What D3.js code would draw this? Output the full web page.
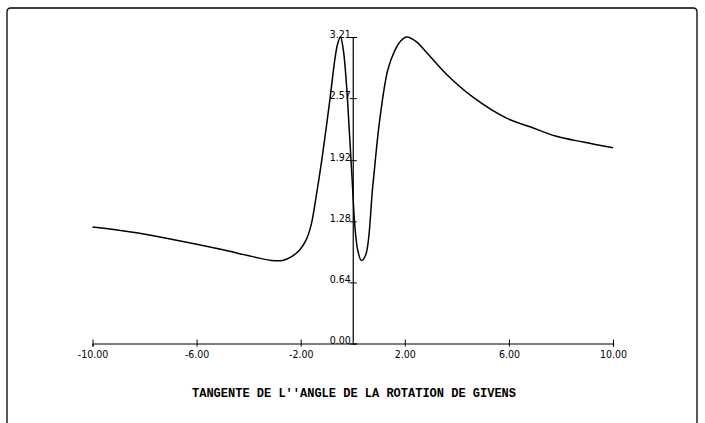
<!DOCTYPE html>
<html>
<head>
<meta charset="utf-8">
<script src="https://cdn.jsdelivr.net/npm/d3@7"></script>
<style>
  html, body { margin: 0; padding: 0; background: #fff; }
  svg { display: block; }
  .tick text { font-family: "DejaVu Sans Condensed", "DejaVu Sans", sans-serif; font-stretch: condensed; }
</style>
</head>
<body>
<div id="chart"></div>
<script>
// Values (t, f(t))
const tValues = [-10, -8.58, -6.92, -5.12, -3.85, -3.12, -2.7, -2.35, -2.04, -1.8, -1.6, -1.4, -1.19, -0.88, -0.69,
                 -0.58, -0.47, -0.36, -0.24, -0.12, -0.01, 0.08, 0.19, 0.33, 0.5, 0.77, 1.04, 1.35, 1.62, 1.85,
                 2.07, 2.45, 2.83, 3.6, 4.62, 5.91, 6.81, 7.83, 8.85, 10];
const fValues = [1.22, 1.17, 1.09, 0.99, 0.91, 0.87, 0.87, 0.91, 0.98, 1.08, 1.24, 1.55, 1.92, 2.55, 2.97,
                 3.14, 3.21, 3.07, 2.71, 2.17, 1.65, 1.23, 0.98, 0.87, 0.93, 1.65, 2.35, 2.87, 3.07, 3.17,
                 3.21, 3.16, 3.05, 2.82, 2.58, 2.36, 2.27, 2.17, 2.11, 2.05];
const xTicks = [-10, -6, -2, 2, 6, 10];
const yTicks = [0, 0.64, 1.28, 1.92, 2.57, 3.21];
const title = "TANGENTE DE L''ANGLE DE LA ROTATION DE GIVENS";

const width = 705, height = 423;
const data = tValues.map((t, i) => ({x: t, y: fValues[i]}));

const xScale = d3.scaleLinear().domain([-10, 10]).range([92.5, 613]);
const yScale = d3.scaleLinear().domain([0, 3.21]).range([343.5, 37]);
const fmt = d => d.toFixed(2);

const svg = d3.select("#chart").append("svg")
    .attr("width", width)
    .attr("height", height);

// frame
svg.append("path")
    .attr("d", "M7,423 V12 Q7,8 11,8 H693 Q697,8 697,12 V423")
    .attr("fill", "none")
    .attr("stroke", "#000")
    .attr("stroke-width", 1.3);

// x axis
svg.append("g")
    .attr("transform", `translate(0,${yScale(0)})`)
    .call(d3.axisBottom(xScale).tickValues(xTicks).tickFormat(fmt).tickSizeOuter(0).tickSize(3).tickPadding(4))
    .call(g => g.select(".domain").attr("stroke-width", 1.2))
    .call(g => g.selectAll(".tick line").attr("y1", -4).attr("y2", 3))
    .call(g => g.selectAll(".tick text").attr("font-size", 10.5).attr("fill", "#000"));

// y axis at t = 0, ticks to the right, labels to the left
svg.append("g")
    .attr("transform", `translate(${xScale(0)},0)`)
    .call(d3.axisLeft(yScale).tickValues(yTicks).tickFormat(fmt).tickSizeOuter(0).tickSize(-4).tickPadding(2))
    .call(g => g.select(".domain").attr("stroke-width", 1.2))
    .call(g => g.selectAll(".tick line").attr("x1", -3).attr("x2", 4))
    .call(g => g.selectAll(".tick text").attr("dy", "0").attr("font-size", 10.5).attr("fill", "#000"));

// curve
svg.append("path")
    .datum(data)
    .attr("fill", "none")
    .attr("stroke", "#000")
    .attr("stroke-width", 1.5)
    .attr("d", d3.line().x(d => xScale(d.x)).y(d => yScale(d.y)).curve(d3.curveCatmullRom.alpha(0.5)));

// title
svg.append("text")
    .attr("x", 354)
    .attr("y", 397)
    .attr("text-anchor", "middle")
    .attr("font-family", "'Liberation Mono', 'DejaVu Sans Mono', monospace")
    .attr("font-weight", "bold")
    .attr("font-size", 12)
    .attr("textLength", 324)
    .attr("lengthAdjust", "spacingAndGlyphs")
    .text(title);
</script>
</body>
</html>
